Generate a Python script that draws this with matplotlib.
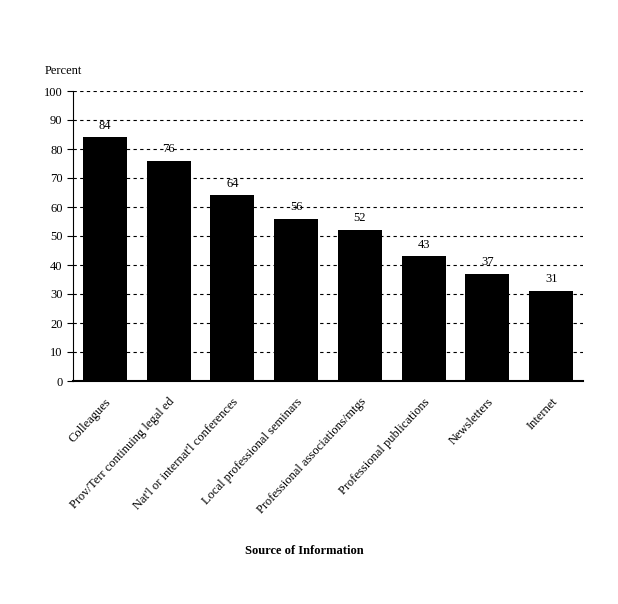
import matplotlib
matplotlib.use('Agg')
from matplotlib import pyplot as plt
import matplotlib.transforms as mtransforms

sources = ['Colleagues', 'Prov/Terr continuing legal ed', "Nat'l or internat'l conferences",
           'Local professional seminars', 'Professional associations/mtgs',
           'Professional publications', 'Newsletters', 'Internet']
percent = [84, 76, 64, 56, 52, 43, 37, 31]

plt.rcParams['font.family'] = ['Liberation Serif', 'DejaVu Serif']
plt.rcParams['font.size'] = 9

fig = plt.figure(figsize=(6.18, 6.04), dpi=100)
ax = fig.add_axes([73 / 618, 1 - 381 / 604, 510 / 618, 290 / 604])

x = range(len(sources))
ax.bar(x, percent, width=0.69, color='black', zorder=3)
for i, v in enumerate(percent):
    ax.text(i, v + 2, str(v), ha='center', va='bottom', fontsize=9, zorder=4)

ax.set_xlim(-0.5, len(sources) - 0.5)
ax.set_ylim(0, 100)
ax.set_yticks(range(0, 101, 10))
ax.yaxis.grid(True, linestyle=(0, (3, 3)), color='black', linewidth=0.8, zorder=0)
ax.set_axisbelow(True)
for s in ['top', 'right']:
    ax.spines[s].set_visible(False)
ax.spines['left'].set_linewidth(0.8)
ax.spines['bottom'].set_linewidth(1.5)
ax.tick_params(axis='y', length=4, width=0.8, direction='out')
ax.tick_params(axis='x', length=0)

ax.set_xticks(list(x))
ax.set_xticklabels(sources, rotation=47, ha='right', va='top', rotation_mode='anchor')
offset = mtransforms.ScaledTranslation(0, -0.1, fig.dpi_scale_trans)
for lab in ax.get_xticklabels():
    lab.set_transform(lab.get_transform() + offset)

fig.text(45 / 618, 1 - 71 / 604, 'Percent', ha='left', va='center', fontsize=9)
fig.text(304 / 618, 1 - 551 / 604, 'Source of Information', ha='center', va='center',
         fontsize=9, fontweight='bold')

plt.savefig('out.png', dpi=100)
